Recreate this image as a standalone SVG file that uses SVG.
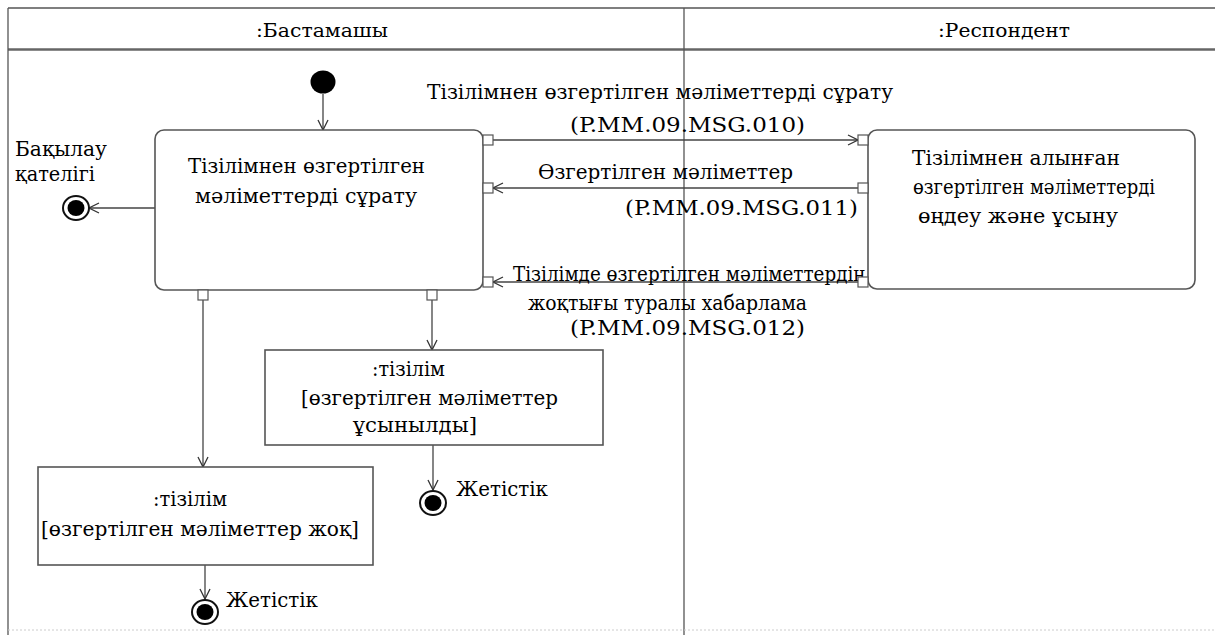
<svg xmlns="http://www.w3.org/2000/svg" width="1215" height="635" viewBox="0 0 1215 635">
<style>
.frame{stroke:#555;stroke-width:1.3;fill:none}
.box{fill:#fff;stroke:#555;stroke-width:1.6}
.pin{fill:#fff;stroke:#555;stroke-width:1.2}
.c{stroke:#444;stroke-width:1.3;fill:none}
.ring{fill:#fff;stroke:#111;stroke-width:2}
</style>
<defs>
<marker id="arr" viewBox="0 0 12 12" refX="11" refY="6" markerWidth="12" markerHeight="12" markerUnits="userSpaceOnUse" orient="auto">
<path d="M1,1 L11,6 L1,11" fill="none" stroke="#333" stroke-width="1.3"/>
</marker>
</defs>
<rect width="1215" height="635" fill="#fff"/>
<g font-family="DejaVu Serif, serif" font-size="20" fill="#000">
<g id="frame">
<line class="frame" x1="8" y1="8" x2="1215" y2="8"/>
<line x1="8" y1="49.5" x2="1215" y2="49.5" stroke="#666" stroke-width="2.5"/>
<line class="frame" x1="8" y1="8" x2="8" y2="635"/>
<line class="frame" x1="684" y1="8" x2="684" y2="635"/>
<line x1="8" y1="630" x2="1215" y2="630" stroke="#ccc" stroke-width="1" stroke-dasharray="2,2"/>
<text font-size="19" x="256" y="37" textLength="132" lengthAdjust="spacingAndGlyphs">:Бастамашы</text>
<text font-size="19" x="938" y="37" textLength="132" lengthAdjust="spacingAndGlyphs">:Респондент</text>
</g>
<g id="connectors">
<line class="c" x1="323" y1="94" x2="323" y2="130" marker-end="url(#arr)"/>
<line class="c" x1="155" y1="208" x2="89" y2="208" marker-end="url(#arr)"/>
<line class="c" x1="493" y1="140" x2="858" y2="140" marker-end="url(#arr)"/>
<line class="c" x1="858" y1="188" x2="493" y2="188" marker-end="url(#arr)"/>
<line class="c" x1="858" y1="282" x2="493" y2="282" marker-end="url(#arr)"/>
<line class="c" x1="203" y1="300" x2="203" y2="467" marker-end="url(#arr)"/>
<line class="c" x1="432" y1="300" x2="432" y2="350" marker-end="url(#arr)"/>
<line class="c" x1="433" y1="445" x2="433" y2="490" marker-end="url(#arr)"/>
<line class="c" x1="205" y1="565" x2="205" y2="599" marker-end="url(#arr)"/>
<text x="427" y="99" textLength="466" lengthAdjust="spacingAndGlyphs">Тізілімнен өзгертілген мәліметтерді сұрату</text>
<text x="570" y="132" textLength="235" lengthAdjust="spacingAndGlyphs">(P.MM.09.MSG.010)</text>
<text x="538" y="179" textLength="255" lengthAdjust="spacingAndGlyphs">Өзгертілген мәліметтер</text>
<text x="625" y="215" textLength="233" lengthAdjust="spacingAndGlyphs">(P.MM.09.MSG.011)</text>
<text x="513" y="281" textLength="352" lengthAdjust="spacingAndGlyphs">Тізілімде өзгертілген мәліметтердің</text>
<text x="528" y="310" textLength="279" lengthAdjust="spacingAndGlyphs">жоқтығы туралы хабарлама</text>
<text x="570" y="335" textLength="235" lengthAdjust="spacingAndGlyphs">(P.MM.09.MSG.012)</text>
</g>
<g id="initial">
<ellipse cx="323" cy="82" rx="12.5" ry="11.5" fill="#000"/>
</g>
<g id="request">
<rect class="box" x="155" y="130" width="328" height="160" rx="9"/>
<text x="188" y="173" textLength="237" lengthAdjust="spacingAndGlyphs">Тізілімнен өзгертілген</text>
<text x="195" y="203" textLength="222" lengthAdjust="spacingAndGlyphs">мәліметтерді сұрату</text>
<rect class="pin" x="483" y="135" width="10" height="10"/>
<rect class="pin" x="483" y="183" width="10" height="10"/>
<rect class="pin" x="483" y="277" width="10" height="10"/>
<rect class="pin" x="198" y="290" width="10" height="10"/>
<rect class="pin" x="427" y="290" width="10" height="10"/>
</g>
<g id="process">
<rect class="box" x="868" y="130" width="327" height="159" rx="9"/>
<text x="912" y="165" textLength="208" lengthAdjust="spacingAndGlyphs">Тізілімнен алынған</text>
<text x="913" y="194" textLength="242" lengthAdjust="spacingAndGlyphs">өзгертілген мәліметтерді</text>
<text x="918" y="223" textLength="200" lengthAdjust="spacingAndGlyphs">өңдеу және ұсыну</text>
<rect class="pin" x="858" y="135" width="10" height="10"/>
<rect class="pin" x="858" y="183" width="10" height="10"/>
<rect class="pin" x="858" y="277" width="10" height="10"/>
</g>
<g id="error_final">
<ellipse class="ring" cx="76" cy="208" rx="13" ry="12"/>
<ellipse cx="76" cy="208" rx="8.5" ry="8" fill="#000"/>
<text x="15" y="156" textLength="92" lengthAdjust="spacingAndGlyphs">Бақылау</text>
<text x="15" y="181" textLength="80" lengthAdjust="spacingAndGlyphs">қателігі</text>
</g>
<g id="obj_provided">
<rect class="box" x="265" y="350" width="338" height="95"/>
<text x="372" y="376" textLength="73" lengthAdjust="spacingAndGlyphs">:тізілім</text>
<text x="301" y="405" textLength="257" lengthAdjust="spacingAndGlyphs">[өзгертілген мәліметтер</text>
<text x="353" y="432" textLength="124" lengthAdjust="spacingAndGlyphs">ұсынылды]</text>
</g>
<g id="final_success1">
<ellipse class="ring" cx="433" cy="503" rx="13" ry="12"/>
<ellipse cx="433" cy="503" rx="8.5" ry="8" fill="#000"/>
<text x="456" y="496" textLength="92" lengthAdjust="spacingAndGlyphs">Жетістік</text>
</g>
<g id="obj_none">
<rect class="box" x="38" y="467" width="335" height="98"/>
<text x="153" y="506" textLength="74" lengthAdjust="spacingAndGlyphs">:тізілім</text>
<text x="41" y="536" textLength="318" lengthAdjust="spacingAndGlyphs">[өзгертілген мәліметтер жоқ]</text>
</g>
<g id="final_success2">
<ellipse class="ring" cx="205" cy="612" rx="13" ry="12"/>
<ellipse cx="205" cy="612" rx="8.5" ry="8" fill="#000"/>
<text x="226" y="607" textLength="92" lengthAdjust="spacingAndGlyphs">Жетістік</text>
</g>
</g>
</svg>
